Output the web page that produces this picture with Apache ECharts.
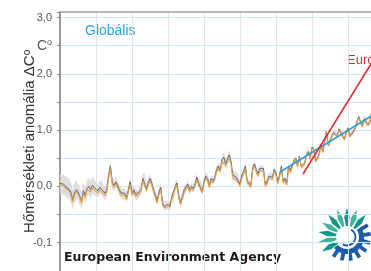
<!DOCTYPE html>
<html>
<head>
<meta charset="utf-8">
<script src="https://cdn.jsdelivr.net/npm/echarts@6/dist/echarts.min.js"></script>
<style>
	html, body { margin: 0; padding: 0; background: #fff; }
	#chart { width: 371px; height: 271px; }
</style>
</head>
<body>
<div id="chart"></div>
<script>
// évek: 1850-2023
const startYear = 1850;
const years = Array.from({length: 174}, (_, i) => startYear + i);

// sötét (kék-szürke) görbe
const darkVals = [
	0.05, 0.02, 0.04, 0.00, -0.02, -0.05, -0.10, -0.24, -0.12, -0.06,
	-0.10, -0.18, -0.26, -0.08, -0.16, -0.04, 0.00, -0.06, 0.02, -0.02,
	-0.04, -0.08, -0.02, -0.02, -0.08, -0.12, -0.06, 0.20, 0.36, 0.08,
	0.02, 0.08, 0.02, -0.06, -0.12, -0.14, -0.12, -0.20, -0.06, 0.08,
	-0.12, -0.06, -0.14, -0.16, -0.10, -0.06, 0.14, 0.16, -0.04, 0.06,
	0.14, 0.06, -0.06, -0.16, -0.26, -0.10, -0.02, -0.30, -0.36, -0.34,
	-0.32, -0.36, -0.20, -0.22, 0.00, 0.06, -0.18, -0.30, -0.18, -0.06,
	-0.04, 0.04, -0.06, 0.00, -0.04, 0.04, 0.16, 0.06, 0.06, -0.10,
	0.10, 0.18, 0.14, 0.02, 0.14, 0.10, 0.16, 0.30, 0.36, 0.28,
	0.48, 0.52, 0.40, 0.42, 0.56, 0.44, 0.20, 0.18, 0.16, 0.14,
	0.04, 0.20, 0.26, 0.36, 0.10, 0.06, 0.02, 0.32, 0.40, 0.30,
	0.22, 0.32, 0.30, 0.32, 0.04, 0.08, 0.18, 0.20, 0.16, 0.30,
	0.24, 0.08, 0.20, 0.36, 0.08, 0.14, 0.06, 0.36, 0.28, 0.38,
	0.46, 0.50, 0.36, 0.54, 0.36, 0.34, 0.42, 0.58, 0.62, 0.50,
	0.70, 0.66, 0.46, 0.50, 0.58, 0.74, 0.62, 0.80, 0.98, 0.74,
	0.74, 0.90, 0.96, 0.96, 0.90, 1.02, 0.96, 0.98, 0.84, 0.96,
	1.04, 0.90, 0.94, 0.98, 1.04, 1.16, 1.24, 1.14, 1.08, 1.20,
	1.22, 1.10, 1.14, 1.30
];

// narancs görbe
const orangeVals = [
	0.02, -0.01, 0.02, -0.04, -0.04, -0.08, -0.14, -0.28, -0.16, -0.08,
	-0.14, -0.20, -0.30, -0.12, -0.20, -0.06, -0.04, -0.10, -0.02, -0.06,
	-0.06, -0.12, -0.06, -0.06, -0.12, -0.16, -0.10, 0.16, 0.34, 0.04,
	-0.02, 0.04, -0.02, -0.10, -0.16, -0.18, -0.16, -0.24, -0.08, 0.04,
	-0.16, -0.10, -0.18, -0.20, -0.14, -0.10, 0.10, 0.12, -0.08, 0.02,
	0.10, 0.02, -0.10, -0.20, -0.30, -0.14, -0.06, -0.34, -0.38, -0.38,
	-0.36, -0.38, -0.24, -0.24, -0.04, 0.02, -0.22, -0.32, -0.22, -0.10,
	-0.08, 0.00, -0.10, -0.04, -0.08, 0.00, 0.12, 0.02, 0.02, -0.12,
	0.06, 0.14, 0.10, -0.02, 0.10, 0.06, 0.12, 0.26, 0.32, 0.26,
	0.44, 0.46, 0.36, 0.38, 0.52, 0.40, 0.14, 0.12, 0.12, 0.10,
	0.00, 0.16, 0.22, 0.32, 0.06, 0.02, -0.02, 0.28, 0.36, 0.26,
	0.18, 0.28, 0.26, 0.28, 0.00, 0.04, 0.14, 0.16, 0.12, 0.26,
	0.20, 0.04, 0.16, 0.32, 0.06, 0.10, 0.02, 0.32, 0.24, 0.34,
	0.44, 0.48, 0.34, 0.52, 0.34, 0.32, 0.40, 0.56, 0.60, 0.48,
	0.68, 0.64, 0.44, 0.48, 0.56, 0.72, 0.60, 0.78, 0.96, 0.72,
	0.72, 0.88, 0.94, 0.94, 0.88, 1.00, 0.94, 0.96, 0.82, 0.94,
	1.02, 0.88, 0.92, 0.96, 1.02, 1.14, 1.22, 1.12, 1.06, 1.18,
	1.20, 1.08, 1.12, 1.28
];

// bizonytalansági sáv fél-szélessége évtizedenként (1850-es évek ... 2020-as évek)
const bandSpread = [0.18, 0.15, 0.12, 0.10, 0.09, 0.08, 0.08, 0.07, 0.07, 0.09, 0.06, 0.06, 0.05, 0.04, 0.04, 0.04, 0.04, 0.04];

// globális trend (világoskék) és európai trend (piros)
const globTrendYears = [1972, 2023];
const globTrendVals = [0.25, 1.25];
const euTrendYears = [1985, 2030];
const euTrendVals = [0.22, 2.55];

// y tengely feliratok
const yLabelValues = [3, 2.5, 2, 1, 0, -1];
const yLabelTexts = ['3,0', '{u|C}{s|o}', '2,0', '1,0', '0,0', '-0,1'];

const chart = echarts.init(document.getElementById('chart'));

const toX = y => y - startYear;
// sáv: [x, alsó, felső]
const bandData = years.map((y, i) => {
	const s = bandSpread[Math.floor(i / 10)];
	return [toX(y), darkVals[i] - s, darkVals[i] + s];
});

// EEA logó
function logo(cx, cy) {
	const els = [];
	const rad = d => d * Math.PI / 180;
	const pt = (r, a) => [cx + r * Math.cos(rad(a)), cy + r * Math.sin(rad(a))];
	// zöld szirmok
	const petalAngles = [150, 170, 190, 210, 230, 250, 270, 290, 310];
	petalAngles.forEach((a, i) => {
		els.push({
			type: 'polygon',
			shape: {points: [pt(11, a - 6), pt(20, a - 8), pt(29, a), pt(20, a + 8), pt(11, a + 6)]},
			style: {fill: i % 2 ? '#46b29c' : '#14958a'}
		});
	});
	// kék fogaskerék
	const pts = [];
	for (let a = -36; a < 140; a += 22) {
		pts.push(pt(17, a), pt(24, a + 2), pt(24, a + 11), pt(17, a + 13));
	}
	pts.push(pt(17, 140));
	for (let a = 140; a >= -36; a -= 8) pts.push(pt(12, a));
	els.push({type: 'polygon', shape: {points: pts}, style: {fill: '#1b5ca8'}});
	els.push({type: 'arc', shape: {cx: cx, cy: cy, r: 8.5, startAngle: rad(-60), endAngle: rad(120)}, style: {stroke: '#1b5ca8', lineWidth: 1.8, fill: null}});
	return els;
}

const option = {
	animation: false,
	grid: {left: 60, top: 12, width: 324, height: 258.75, outerBoundsMode: 'none'},
	xAxis: [{
		type: 'value',
		min: 0,
		max: 180,
		interval: 20,
		axisLine: {show: false},
		axisTick: {show: false},
		axisLabel: {show: false},
		splitLine: {lineStyle: {color: '#d9e8ef', width: 1}}
	}, {
		type: 'value',
		position: 'top',
		min: 0,
		max: 180,
		axisLine: {lineStyle: {color: '#a5a5a5', width: 1.5}},
		axisTick: {show: false},
		axisLabel: {show: false},
		splitLine: {show: false}
	}],
	yAxis: {
		type: 'value',
		min: -1.5,
		max: 3.1,
		interval: 0.5,
		name: 'Hőmérsékleti anomália ΔC{s|o}',
		nameLocation: 'middle',
		nameRotate: 90,
		nameGap: 22,
		nameMoveOverlap: false,
		nameTextStyle: {
			fontSize: 15,
			color: '#333',
			fontFamily: 'Liberation Sans, Arial, sans-serif',
			rich: {s: {fontSize: 10, verticalAlign: 'top', padding: [0, 0, 6, 0]}}
		},
		axisLine: {show: true, lineStyle: {color: '#7a7a7a', width: 1.5}},
		axisTick: {show: true, length: 3, lineStyle: {color: '#888'}},
		axisLabel: {
			margin: 8,
			fontSize: 11,
			color: '#555',
			fontFamily: 'Liberation Sans, Arial, sans-serif',
			formatter: function(v) {
				const k = yLabelValues.findIndex(t => Math.abs(t - v) < 1e-6);
				return k < 0 ? '' : yLabelTexts[k];
			},
			rich: {
				u: {fontSize: 14, color: '#555'},
				s: {fontSize: 9, color: '#555', verticalAlign: 'top', padding: [0, 0, 6, 0]}
			}
		},
		splitLine: {lineStyle: {color: '#cfe9f2', width: 1}}
	},
	series: [{
		name: 'sáv',
		type: 'custom',
		silent: true,
		data: bandData,
		encode: {x: 0, y: [1, 2]},
		renderItem: function(params, api) {
			if (params.dataIndex !== 0) return;
			const upper = bandData.map(d => api.coord([d[0], d[2]]));
			const lower = bandData.map(d => api.coord([d[0], d[1]])).reverse();
			return {
				type: 'polygon',
				shape: {points: upper.concat(lower)},
				style: {fill: '#d9d9d9', opacity: 0.85}
			};
		}
	}, {
		name: 'sötét',
		type: 'line',
		data: years.map((y, i) => [toX(y), darkVals[i]]),
		symbol: 'none',
		lineStyle: {color: '#5b5f86', width: 1}
	}, {
		name: 'narancs',
		type: 'line',
		data: years.map((y, i) => [toX(y), orangeVals[i]]),
		symbol: 'none',
		lineStyle: {color: '#e8a13c', width: 1.2, opacity: 0.9}
	}, {
		name: 'globális trend',
		type: 'line',
		data: globTrendYears.map((y, i) => [toX(y), globTrendVals[i]]),
		symbol: 'none',
		lineStyle: {color: '#2ba3dc', width: 1.8}
	}, {
		name: 'európai trend',
		type: 'line',
		data: euTrendYears.map((y, i) => [toX(y), euTrendVals[i]]),
		symbol: 'none',
		lineStyle: {color: '#e2262c', width: 1.5}
	}],
	graphic: [{
		type: 'text',
		left: 85,
		top: 24,
		style: {text: 'Globális', fontSize: 14, fill: '#2aa6de', fontFamily: 'Liberation Sans, Arial, sans-serif'}
	}, {
		type: 'text',
		left: 347,
		top: 54,
		style: {text: 'Európa', fontSize: 13, fill: '#e2262c', fontFamily: 'Liberation Sans, Arial, sans-serif'}
	}, {
		type: 'text',
		left: 62,
		top: 249,
		style: {
			text: 'European Environment Agency',
			fontSize: 12.5,
			fontWeight: 'bold',
			fill: '#1a1a1a',
			fontFamily: 'DejaVu Sans, sans-serif',
			backgroundColor: '#fff',
			padding: [2, 2, 6, 2]
		}
	}].concat(logo(347, 237))
};

chart.setOption(option);
</script>
</body>
</html>
